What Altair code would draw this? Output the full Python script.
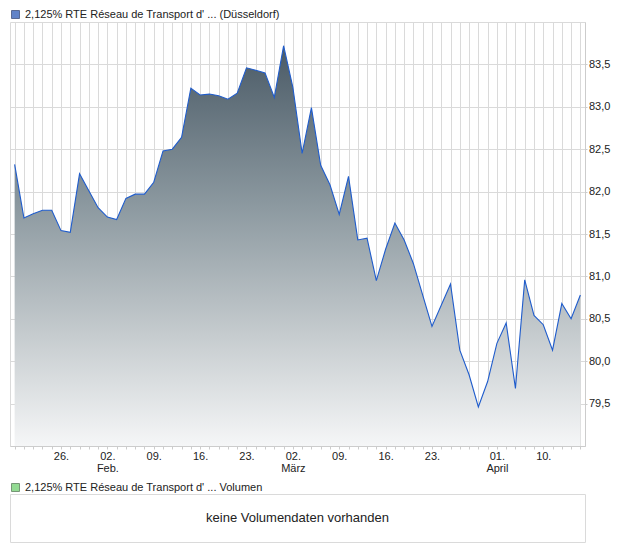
import altair as alt
import pandas as pd

# ---------------- data ----------------
SERIES_NAME = "2,125% RTE Réseau de Transport d' ... (Düsseldorf)"
VOLUME_NAME = "2,125% RTE Réseau de Transport d' ... Volumen"
NO_VOLUME_TEXT = "keine Volumendaten vorhanden"

DATES = [
    "2026-01-19", "2026-01-20", "2026-01-21", "2026-01-22", "2026-01-23",
    "2026-01-26", "2026-01-27", "2026-01-28", "2026-01-29", "2026-01-30",
    "2026-02-02", "2026-02-03", "2026-02-04", "2026-02-05", "2026-02-06",
    "2026-02-09", "2026-02-10", "2026-02-11", "2026-02-12", "2026-02-13",
    "2026-02-16", "2026-02-17", "2026-02-18", "2026-02-19", "2026-02-20",
    "2026-02-23", "2026-02-24", "2026-02-25", "2026-02-26", "2026-02-27",
    "2026-03-02", "2026-03-03", "2026-03-04", "2026-03-05", "2026-03-06",
    "2026-03-09", "2026-03-10", "2026-03-11", "2026-03-12", "2026-03-13",
    "2026-03-16", "2026-03-17", "2026-03-18", "2026-03-19", "2026-03-20",
    "2026-03-23", "2026-03-24", "2026-03-25", "2026-03-26", "2026-03-27",
    "2026-03-30", "2026-03-31", "2026-04-01", "2026-04-02",
    "2026-04-07", "2026-04-08", "2026-04-09", "2026-04-10",
    "2026-04-13", "2026-04-14", "2026-04-15", "2026-04-16",
]

PRICES = [
    82.32, 81.69, 81.74, 81.78, 81.78,
    81.54, 81.52, 82.21, 82.01, 81.81,
    81.70, 81.67, 81.92, 81.97, 81.97,
    82.11, 82.48, 82.50, 82.64, 83.22,
    83.14, 83.15, 83.13, 83.09, 83.16,
    83.46, 83.43, 83.40, 83.11, 83.72,
    83.23, 82.45, 82.99, 82.31, 82.08,
    81.73, 82.18, 81.43, 81.45, 80.95,
    81.32, 81.63, 81.43, 81.15, 80.78,
    80.41, 80.66, 80.91, 80.13, 79.84,
    79.46, 79.76, 80.21, 80.45,
    79.68, 80.96, 80.54, 80.43,
    80.13, 80.68, 80.50, 80.78,
]

TICK_DATES = ["2026-01-26", "2026-02-02", "2026-02-09", "2026-02-16", "2026-02-23",
              "2026-03-02", "2026-03-09", "2026-03-16", "2026-03-23", "2026-04-01",
              "2026-04-10"]
TICK_DAYS = ["26.", "02.", "09.", "16.", "23.", "02.", "09.", "16.", "23.", "01.", "10."]
TICK_MONTHS = ["", "Feb.", "", "", "", "März", "", "", "", "April", ""]

Y_TICKS = [79.5, 80.0, 80.5, 81.0, 81.5, 82.0, 82.5, 83.0, 83.5]
Y_DOMAIN = [79.0, 84.0]

# ---------------- style ----------------
FONT = "Liberation Sans"
TEXT = "#222222"
GRID = "#dadada"
AXIS_LINE = "#cccccc"
LINE_COLOR = "#1f5ccc"
LEGEND_BLUE = "#1f4fb2"
LEGEND_BLUE_EDGE = "#142c66"
LEGEND_GREEN = "#66cc66"
LEGEND_GREEN_EDGE = "#3d6b3d"

W = 575
H_MAIN = 424
H_VOL = 48


def js_list(values):
    return "[" + ",".join("'" + v + "'" for v in values) + "]"


idx = f"indexof({js_list(TICK_DATES)}, datum.value)"
x_label_expr = (
    f"{idx} < 0 ? '' : [{js_list(TICK_DAYS)}[{idx}], {js_list(TICK_MONTHS)}[{idx}]]"
)

main_df = pd.DataFrame({"date": DATES, "price": PRICES, "series": SERIES_NAME})

x_enc = alt.X(
    "date:O",
    scale=alt.Scale(type="point", padding=0.5),
    axis=alt.Axis(
        title=None,
        grid=True,
        gridColor=GRID,
        gridWidth=1,
        domainColor=AXIS_LINE,
        tickColor=AXIS_LINE,
        tickSize=3,
        labelExpr=x_label_expr,
        labelAngle=0,
        labelOverlap=False,
        labelAlign="center",
        labelBaseline="top",
        labelPadding=1,
        labelLineHeight=12.5,
        labelFont=FONT,
        labelFontSize=11,
        labelColor=TEXT,
    ),
)

y_enc = alt.Y(
    "price:Q",
    scale=alt.Scale(domain=Y_DOMAIN, nice=False, zero=False),
    axis=alt.Axis(
        title=None,
        orient="right",
        values=Y_TICKS,
        grid=True,
        gridColor=GRID,
        gridWidth=1,
        domainColor=AXIS_LINE,
        tickColor=AXIS_LINE,
        tickSize=2,
        labelPadding=1.5,
        labelExpr="replace(format(datum.value, '.1f'), '.', ',')",
        labelFont=FONT,
        labelFontSize=11,
        labelColor=TEXT,
    ),
)

gradient = alt.Gradient(
    gradient="linear",
    stops=[
        alt.GradientStop(color="#4a5a66", offset=0),
        alt.GradientStop(color="#8c99a0", offset=0.4),
        alt.GradientStop(color="#c5cbce", offset=0.72),
        alt.GradientStop(color="#f5f6f7", offset=1),
    ],
    x1=1, x2=1, y1=0, y2=1,
)

area = alt.Chart(main_df).mark_area(color=gradient).encode(
    x=x_enc, y=y_enc, y2=alt.datum(Y_DOMAIN[0])
)
line = alt.Chart(main_df).mark_line(color=LINE_COLOR, strokeWidth=1.1).encode(
    x=x_enc, y=y_enc
)
main_legend = alt.Chart(main_df).mark_square(size=0).encode(
    x=alt.value(0),
    y=alt.value(0),
    fill=alt.Fill(
        "series:N",
        scale=alt.Scale(range=[LEGEND_BLUE]),
        legend=alt.Legend(
            title=None, orient="none", legendX=0, legendY=-13,
            symbolType="square", symbolSize=64,
            symbolStrokeColor=LEGEND_BLUE_EDGE, symbolStrokeWidth=1,
            labelFont=FONT, labelFontSize=11, labelColor=TEXT,
            labelLimit=0, labelOffset=4, padding=0,
        ),
    ),
)
main = alt.layer(area, line, main_legend).properties(width=W, height=H_MAIN)

vol_df = pd.DataFrame({"series": [VOLUME_NAME], "message": [NO_VOLUME_TEXT]})
vol_legend = alt.Chart(vol_df).mark_square(size=0).encode(
    x=alt.value(0),
    y=alt.value(0),
    fill=alt.Fill(
        "series:N",
        scale=alt.Scale(range=[LEGEND_GREEN]),
        legend=alt.Legend(
            title=None, orient="none", legendX=0, legendY=-12,
            symbolType="square", symbolSize=64,
            symbolStrokeColor=LEGEND_GREEN_EDGE, symbolStrokeWidth=1,
            labelFont=FONT, labelFontSize=11, labelColor=TEXT,
            labelLimit=0, labelOffset=4, padding=0,
        ),
    ),
)
vol_text = alt.Chart(vol_df).mark_text(
    font=FONT, fontSize=13, color=TEXT, align="center", baseline="middle"
).encode(text="message:N", x=alt.value(W / 2), y=alt.value(H_VOL / 2))
vol = alt.layer(vol_legend, vol_text).properties(width=W, height=H_VOL)

chart = (
    alt.vconcat(main, vol, spacing=48, bounds="flush")
    .resolve_scale(fill="independent")
    .properties(padding={"left": 1, "top": 0, "right": 1, "bottom": 1})
    .configure_view(stroke=GRID, strokeWidth=1)
)

chart.save("out.html", embed_options={"renderer": "svg", "actions": False})
